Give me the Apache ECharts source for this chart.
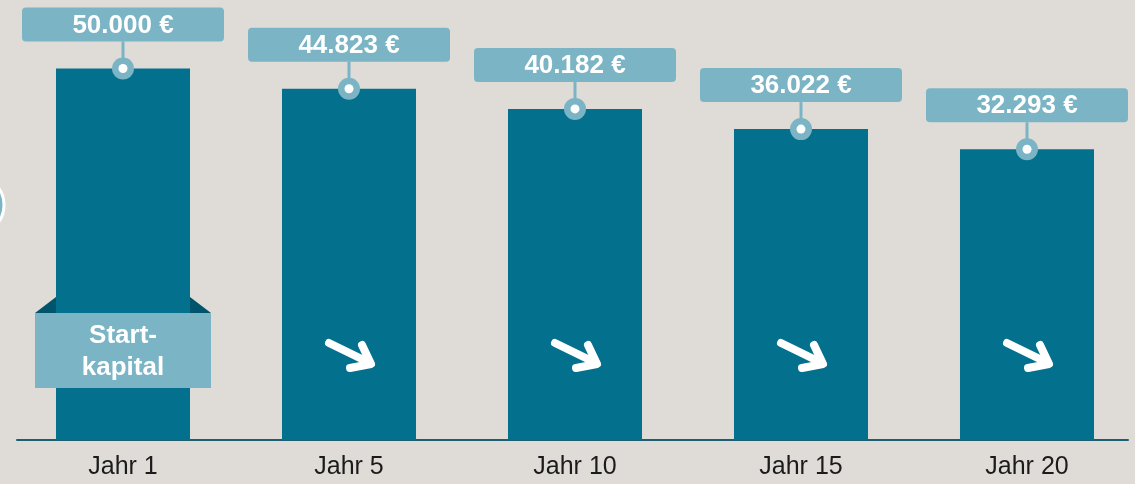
<!DOCTYPE html>
<html>
<head>
<meta charset="utf-8">
<style>
  html, body { margin: 0; padding: 0; background: #dfdcd8; }
  #chart { width: 1135px; height: 484px; }
</style>
<script src="https://cdn.jsdelivr.net/npm/echarts@6/dist/echarts.min.js"></script>
</head>
<body>
<div id="chart"></div>
<script>
// Daten
const years = ['Jahr 1', 'Jahr 5', 'Jahr 10', 'Jahr 15', 'Jahr 20'];
const kapital = [50000, 44823, 40182, 36022, 32293];
const startLabel = ['Start-', 'kapital'];

const BAR = '#03708d';
const LIGHT = '#7bb4c5';
const FOLD = '#00546b';
const FONT = 'Liberation Sans';

// 50000 -> "50.000 €"
function euro(v) {
  return String(v).replace(/\B(?=(\d{3})+(?!\d))/g, '.') + ' €';
}

function label(text, x, y) {
  return {
    type: 'text',
    style: {
      text: text, x: x, y: y,
      align: 'center', verticalAlign: 'middle',
      fill: '#fff', fontSize: 26, fontWeight: 'bold', fontFamily: FONT
    }
  };
}

function renderBar(params, api) {
  const i = api.value(0);
  const top = api.coord([i, api.value(1)]);
  const cs = params.coordSys;
  const base = cs.y + cs.height;
  const cx = top[0];
  const bw = api.size([1, 0])[0] * 0.593;
  const boxW = 202, boxH = 34;
  const boxTop = top[1] - 61;

  const children = [
    { type: 'rect', shape: { x: cx - bw / 2, y: top[1], width: bw, height: base - top[1] }, style: { fill: BAR } },
    { type: 'line', shape: { x1: cx, y1: boxTop + boxH, x2: cx, y2: top[1] }, style: { stroke: LIGHT, lineWidth: 3 } },
    { type: 'rect', shape: { x: cx - boxW / 2, y: boxTop, width: boxW, height: boxH, r: 4 }, style: { fill: LIGHT } },
    label(euro(api.value(1)), cx, boxTop + boxH / 2 + 1),
    { type: 'circle', shape: { cx: cx, cy: top[1], r: 11 }, style: { fill: LIGHT } },
    { type: 'circle', shape: { cx: cx, cy: top[1], r: 4.5 }, style: { fill: '#fff' } }
  ];

  if (i === 0) {
    // Band "Startkapital"
    const rw = bw / 2 + 21;
    const rTop = base - 127, rBot = base - 52;
    children.push(
      { type: 'polygon', shape: { points: [[cx - rw, rTop], [cx - bw / 2, rTop], [cx - bw / 2, rTop - 16]] }, style: { fill: FOLD } },
      { type: 'polygon', shape: { points: [[cx + rw, rTop], [cx + bw / 2, rTop], [cx + bw / 2, rTop - 16]] }, style: { fill: FOLD } },
      { type: 'rect', shape: { x: cx - rw, y: rTop, width: rw * 2, height: rBot - rTop }, style: { fill: LIGHT } },
      label(startLabel[0], cx, rTop + 23),
      label(startLabel[1], cx, rTop + 55)
    );
  } else {
    // Pfeil nach rechts unten
    const ay = base - 87;
    const arrow = { stroke: '#fff', lineWidth: 8, lineCap: 'round', lineJoin: 'round', fill: null };
    children.push(
      { type: 'polyline', shape: { points: [[cx - 20, ay - 10], [cx + 21, ay + 10]] }, style: arrow },
      { type: 'polyline', shape: { points: [[cx + 13, ay - 8], [cx + 22, ay + 11], [cx + 1, ay + 15]] }, style: arrow }
    );
  }

  return { type: 'group', children: children };
}

const chart = echarts.init(document.getElementById('chart'));
chart.setOption({
  backgroundColor: '#dfdcd8',
  animation: false,
  grid: [
    { left: 10, right: -5, top: 20, bottom: 44, outerBoundsMode: 'none' },
    { left: 17, right: 7, top: 20, bottom: 44, outerBoundsMode: 'none' }
  ],
  xAxis: [
    {
      type: 'category',
      data: years,
      axisLine: { show: false },
      axisTick: { show: false },
      axisLabel: { fontSize: 25, color: '#1b1b1b', margin: 15, fontFamily: FONT }
    },
    {
      gridIndex: 1,
      type: 'value',
      min: 0,
      max: 1,
      axisLine: { show: true, onZero: false, lineStyle: { color: '#1d5e73', width: 2 } },
      axisTick: { show: false },
      axisLabel: { show: false },
      splitLine: { show: false }
    }
  ],
  yAxis: [
    { type: 'log', min: 6700, max: 65000, show: false },
    { gridIndex: 1, type: 'value', show: false }
  ],
  graphic: [
    {
      type: 'circle',
      shape: { cx: -26, cy: 205, r: 30 },
      style: { fill: LIGHT, stroke: '#fff', lineWidth: 3 }
    }
  ],
  series: [
    {
      type: 'custom',
      renderItem: renderBar,
      data: years.map((y, i) => [i, kapital[i]]),
      encode: { x: 0, y: 1 },
      clip: false
    }
  ]
});
</script>
</body>
</html>
